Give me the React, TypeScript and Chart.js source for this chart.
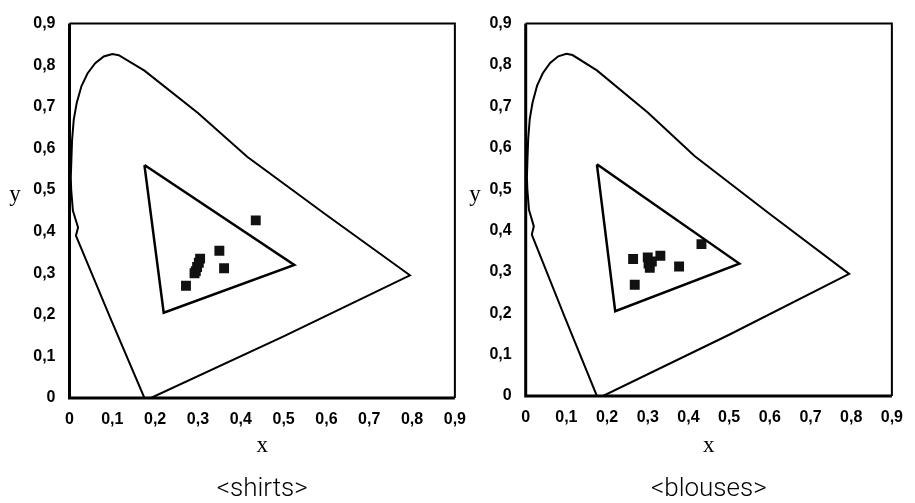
import React, { useEffect, useRef } from "react";
import { Chart, registerables } from "chart.js";

Chart.register(...registerables);

// ---- data ----
const tickValues = [0, 0.1, 0.2, 0.3, 0.4, 0.5, 0.6, 0.7, 0.8, 0.9];
const tickLabels = ["0", "0,1", "0,2", "0,3", "0,4", "0,5", "0,6", "0,7", "0,8", "0,9"];

// spectral locus outline (chromaticity diagram)
const locusX = [0.175, 0.095, 0.015, 0.02, 0.008, 0.004, 0.003, 0.004, 0.006, 0.01, 0.017, 0.028, 0.042, 0.06, 0.08, 0.1, 0.115, 0.175, 0.3, 0.415, 0.6, 0.795, 0.5, 0.19, 0.175];
const locusY = [0.0, 0.193, 0.39, 0.41, 0.45, 0.5, 0.53, 0.56, 0.62, 0.67, 0.71, 0.75, 0.78, 0.805, 0.821, 0.827, 0.824, 0.787, 0.685, 0.58, 0.44, 0.295, 0.148, 0.0, 0.0];

// display gamut triangle
const gamutX = [0.175, 0.525, 0.22, 0.175];
const gamutY = [0.56, 0.32, 0.205, 0.56];

// measured colours
const shirtsX = [0.435, 0.35, 0.361, 0.272, 0.305, 0.302, 0.298, 0.295, 0.292];
const shirtsY = [0.427, 0.354, 0.312, 0.27, 0.335, 0.325, 0.315, 0.305, 0.3];

const blousesX = [0.432, 0.264, 0.268, 0.377, 0.331, 0.3, 0.302, 0.305, 0.31];
const blousesY = [0.367, 0.331, 0.269, 0.313, 0.339, 0.335, 0.32, 0.31, 0.325];

const zip = (xs: number[], ys: number[]) => xs.map((x, i) => ({ x, y: ys[i] }));

const framePlugin = {
  id: "frame",
  afterDraw(chart: any, _args: any, opts: any) {
    const { ctx } = chart;
    const { left, right, top, bottom } = chart.chartArea;
    ctx.save();
    ctx.strokeStyle = "#000";
    ctx.lineWidth = 2;
    ctx.beginPath();
    ctx.moveTo(left, top);
    ctx.lineTo(right, top);
    ctx.lineTo(right, bottom);
    ctx.stroke();
    ctx.lineWidth = 3;
    ctx.beginPath();
    ctx.moveTo(left, top);
    ctx.lineTo(left, bottom);
    ctx.lineTo(right, bottom);
    ctx.stroke();
    ctx.fillStyle = "#000";
    ctx.textAlign = "center";
    ctx.textBaseline = "middle";
    ctx.font = '23px "Liberation Serif"';
    ctx.fillText("x", (left + right) / 2, opts.xLabelY);
    ctx.fillText("y", opts.yLabelX, opts.yLabelY);
    ctx.font = '300 26px Roboto';
    ctx.fillText(opts.caption, (left + right) / 2, opts.captionY);
    ctx.restore();
  },
};

type PanelProps = {
  left: number;
  width: number;
  plotLeft: number;
  plotRight: number;
  plotTop: number;
  plotBottom: number;
  xs: number[];
  ys: number[];
  caption: string;
  yLabelX: number;
};

const H = 503;

function Panel(p: PanelProps) {
  const ref = useRef<HTMLCanvasElement | null>(null);
  useEffect(() => {
    if (!ref.current) return;
    const tickFont = { family: "Liberation Sans", weight: "bold" as const, size: 16 };
    const chart = new Chart(ref.current, {
      type: "scatter",
      data: {
        datasets: [
          {
            data: zip(locusX, locusY),
            showLine: true,
            borderColor: "#000",
            borderWidth: 2,
            pointRadius: 0,
            fill: false,
            tension: 0,
          },
          {
            data: zip(gamutX, gamutY),
            showLine: true,
            borderColor: "#000",
            borderWidth: 2.5,
            pointRadius: 0,
            fill: false,
            tension: 0,
          },
          {
            data: zip(p.xs, p.ys),
            showLine: false,
            pointStyle: "rect",
            pointRadius: 7,
            backgroundColor: "#111",
            borderWidth: 0,
          },
        ],
      },
      options: {
        animation: false,
        responsive: false,
        maintainAspectRatio: false,
        layout: {
          padding: { top: p.plotTop, left: 0, right: p.width - p.plotRight, bottom: 0 },
        },
        plugins: {
          legend: { display: false },
          tooltip: { enabled: false },
          // @ts-ignore
          frame: {
            caption: p.caption,
            xLabelY: 446,
            yLabelX: p.yLabelX,
            yLabelY: 195,
            captionY: 489,
          },
        },
        scales: {
          x: {
            type: "linear",
            min: 0,
            max: 0.9,
            grid: { display: false, drawTicks: false },
            border: { display: false },
            afterFit: (s: any) => {
              s.height = H - p.plotBottom;
            },
            afterBuildTicks: (s: any) => {
              s.ticks = tickValues.map((v) => ({ value: v }));
            },
            ticks: {
              padding: 12,
              color: "#000",
              font: tickFont,
              maxRotation: 0,
              autoSkip: false,
              callback: (_v: any, i: number) => tickLabels[i],
            },
          },
          y: {
            type: "linear",
            min: 0,
            max: 0.9,
            grid: { display: false, drawTicks: false },
            border: { display: false },
            afterFit: (s: any) => {
              s.width = p.plotLeft;
            },
            afterBuildTicks: (s: any) => {
              s.ticks = tickValues.map((v) => ({ value: v }));
            },
            ticks: {
              padding: 14,
              color: "#000",
              font: tickFont,
              autoSkip: false,
              callback: (_v: any, i: number) => tickLabels[i],
            },
          },
        },
      },
      plugins: [framePlugin],
    });
    return () => chart.destroy();
  }, []);
  return (
    <canvas
      ref={ref}
      width={p.width}
      height={H}
      style={{ position: "absolute", left: p.left, top: 0, width: p.width, height: H }}
    />
  );
}

export default function App() {
  return (
    <div style={{ position: "absolute", left: 0, top: 0, width: 915, height: H, background: "#fff", overflow: "hidden" }}>
      <Panel
        left={0}
        width={478}
        plotLeft={69.5}
        plotRight={455}
        plotTop={19}
        plotBottom={398}
        xs={shirtsX}
        ys={shirtsY}
        caption="<shirts>"
        yLabelX={15}
      />
      <Panel
        left={465}
        width={450}
        plotLeft={60.7}
        plotRight={436.7}
        plotTop={19}
        plotBottom={396}
        xs={blousesX}
        ys={blousesY}
        caption="<blouses>"
        yLabelX={10}
      />
    </div>
  );
}
